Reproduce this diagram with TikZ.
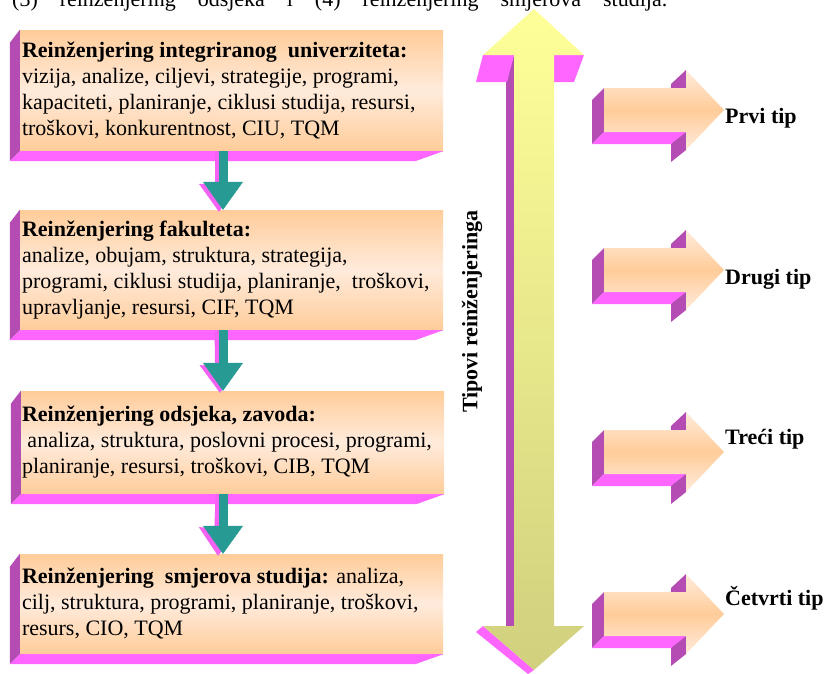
\documentclass[tikz,border=0pt]{standalone}
\usepackage{fontspec}
\setmainfont{Liberation Serif}
\usetikzlibrary{arrows.meta, calc}

\definecolor{breskva}{RGB}{255,204,153}
\definecolor{breskvasvijetla}{RGB}{255,235,220}
\definecolor{ljubicasta}{RGB}{180,76,180}
\definecolor{ruzicasta}{RGB}{255,102,255}
\definecolor{tirkizna}{RGB}{40,154,148}
\definecolor{zutagore}{RGB}{255,255,153}
\definecolor{zutadolje}{RGB}{208,208,126}

\begin{document}
\begin{tikzpicture}[x=1pt, y=-1pt,
  font=\fontsize{22}{26}\selectfont,
  ploca/.style={rectangle, inner sep=0pt, minimum width=423pt,
    top color=breskva, bottom color=breskva, middle color=breskvasvijetla},
  opis/.style={anchor=west, align=left, inner sep=0pt},
  strelica/.style={line width=9pt, tirkizna,
    -{Triangle[width=40pt, length=28pt, line width=0.4pt]}},
  sjena/.style={strelica, ruzicasta!85!ljubicasta},
  oznaka/.style={anchor=base west, inner sep=0pt, font=\fontsize{22}{26}\selectfont\bfseries},
  tipstrelica/.pic={
    % bocne plohe
    \fill[ljubicasta] (0,0) -- (-12,12) -- (-12,56) -- (0,44) -- cycle;
    \fill[ruzicasta] (0,44) -- (82,44) -- (67,56) -- (-12,56) -- cycle;
    \fill[ljubicasta] (82,-18) -- (67,-4) -- (67,0) -- (82,0) -- cycle;
    \fill[ljubicasta] (82,44) -- (82,62) -- (67,74) -- (67,56) -- cycle;
    % prednja ploha
    \shade[top color=breskvasvijetla, bottom color=breskvasvijetla, middle color=breskva]
      (0,0) -- (82,0) -- (82,-18) -- (120,22) -- (82,62) -- (82,44) -- (0,44) -- cycle;
  },
]

  \useasboundingbox (0,0) rectangle (827,673);
  \clip (0,0) rectangle (827,673);

  % --- Odrezani redak teksta na vrhu ---
  \node[anchor=base west, inner sep=0pt] (naslov) at (12,6)
    {\makebox[655pt][s]{(3) reinženjering odsjeka i (4) reinženjering smjerova studija.}};

  % --- Ploce (prednje plohe) ---
  \node[ploca, minimum height=121pt] (b1) at (231.5,90.5) {};
  \node[ploca, minimum height=120pt] (b2) at (231.5,270) {};
  \node[ploca, minimum height=103pt] (b3) at (232.5,442.5) {};
  \node[ploca, minimum height=100pt] (b4) at (231.5,604) {};

  % --- Bocne plohe ploca ---
  \fill[ljubicasta] (b1.north west) -- ++(-10,13) -- ($(b1.south west)+(-10,10)$) -- (b1.south west) -- cycle;
  \fill[ruzicasta] (b1.south west) -- (b1.south east) -- ++(-28,10) -- ($(b1.south west)+(-10,10)$) -- cycle;
  \fill[ljubicasta] (b2.north west) -- ++(-10,13) -- ($(b2.south west)+(-10,10)$) -- (b2.south west) -- cycle;
  \fill[ruzicasta] (b2.south west) -- (b2.south east) -- ++(-28,10) -- ($(b2.south west)+(-10,10)$) -- cycle;
  \fill[ljubicasta] (b3.north west) -- ++(-10,13) -- ($(b3.south west)+(-10,10)$) -- (b3.south west) -- cycle;
  \fill[ruzicasta] (b3.south west) -- (b3.south east) -- ++(-28,10) -- ($(b3.south west)+(-10,10)$) -- cycle;
  \fill[ljubicasta] (b4.north west) -- ++(-10,13) -- ($(b4.south west)+(-10,10)$) -- (b4.south west) -- cycle;
  \fill[ruzicasta] (b4.south west) -- (b4.south east) -- ++(-28,10) -- ($(b4.south west)+(-10,10)$) -- cycle;

  % --- Tekst u plocama ---
  \node[opis] (t1) at ([xshift=2pt]b1.west)
    {\textbf{Reinženjering integriranog\ \ univerziteta:}\\
     vizija, analize, ciljevi, strategije, programi,\\
     kapaciteti, planiranje, ciklusi studija, resursi,\\
     troškovi, konkurentnost, CIU, TQM};
  \node[opis] (t2) at ([xshift=2pt]b2.west)
    {\textbf{Reinženjering fakulteta:}\\
     analize, obujam, struktura, strategija,\\
     programi, ciklusi studija, planiranje,\ \ troškovi,\\
     upravljanje, resursi, CIF, TQM};
  \node[opis] (t3) at ([xshift=1pt]b3.west)
    {\textbf{Reinženjering odsjeka, zavoda:}\\
     \hspace*{0.25em}analiza, struktura, poslovni procesi, programi,\\
     planiranje, resursi, troškovi, CIB, TQM};
  \node[opis] (t4) at ([xshift=2pt]b4.west)
    {\textbf{Reinženjering\ \ smjerova studija:} analiza,\\
     cilj, struktura, programi, planiranje, troškovi,\\
     resurs, CIO, TQM};

  % --- Strelice izmedu ploca ---
  \draw[sjena] ([xshift=-12.5pt]b1.south) -- ([xshift=-12.5pt, yshift=-2pt]b2.north);
  \draw[strelica] ([xshift=-8.5pt]b1.south) -- ([xshift=-8.5pt]b2.north);
  \draw[sjena] ([xshift=-12.5pt]b2.south) -- ([xshift=-12.5pt, yshift=-2pt]b3.north);
  \draw[strelica] ([xshift=-8.5pt]b2.south) -- ([xshift=-9.5pt]b3.north);
  \draw[sjena] ([xshift=-12.5pt]b3.south) -- ([xshift=-13.5pt, yshift=-2pt]b4.north);
  \draw[strelica] ([xshift=-9.5pt]b3.south) -- ([xshift=-8.5pt]b4.north);

  % --- Velika dvostruka strelica ---
  \fill[ljubicasta] (514,55) -- (506,82) -- (506,626) -- (514,626) -- cycle;
  \fill[ruzicasta] (483,55) -- (514,55) -- (507,82) -- (476,82) -- cycle;
  \fill[ruzicasta] (554,55) -- (584,55) -- (574,82) -- (554,82) -- cycle;
  \fill[ruzicasta] (476,632) -- (483,626) -- (534,670) -- (528,674) -- cycle;
  \shade[top color=zutagore, bottom color=zutadolje]
    (534,9) -- (584,55) -- (554,55) -- (554,626) -- (584,626) -- (534,670)
    -- (483,626) -- (514,626) -- (514,55) -- (483,55) -- cycle;

  \node[rotate=90, inner sep=0pt, font=\fontsize{22}{26}\selectfont\bfseries] (tipovi)
    at (472,311.5) {Tipovi reinženjeringa};

  % --- Tipovi ---
  \pic at (604,88) {tipstrelica};
  \pic at (604,248) {tipstrelica};
  \pic at (604,430) {tipstrelica};
  \pic at (604,592) {tipstrelica};

  \node[oznaka] (prvi) at (725,123) {Prvi tip};
  \node[oznaka] (drugi) at (725,284) {Drugi tip};
  \node[oznaka] (treci) at (725,444) {Treći tip};
  \node[oznaka] (cetvrti) at (725,605) {Četvrti tip};

\end{tikzpicture}
\end{document}
